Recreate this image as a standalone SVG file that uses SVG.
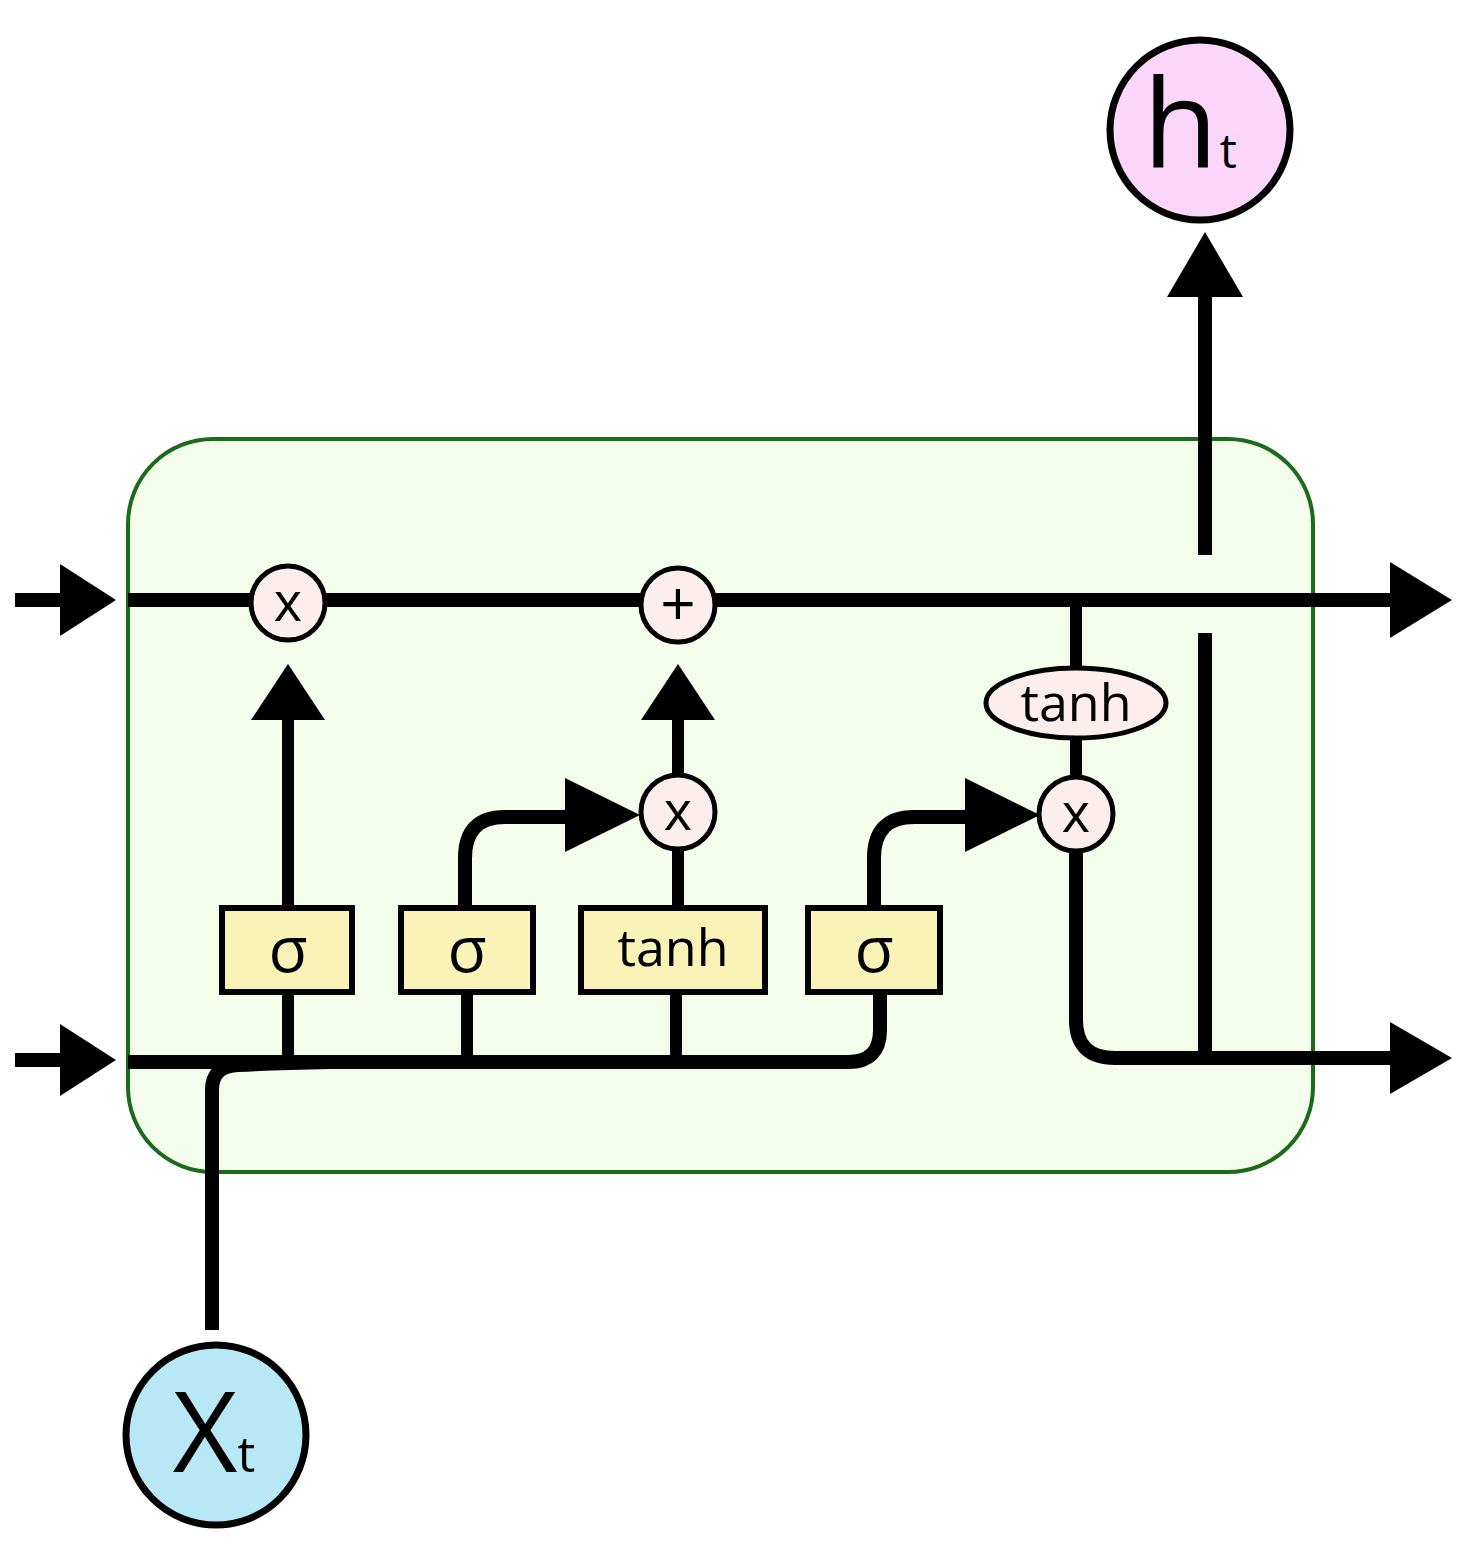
<svg xmlns="http://www.w3.org/2000/svg" width="1472" height="1557" viewBox="0 0 1472 1557">
<style>
.ln{fill:none;stroke:#000;stroke-width:14;stroke-linecap:butt;stroke-linejoin:round}
.ln2{fill:none;stroke:#000;stroke-width:12}
.ah{fill:#000}
.op{fill:#fdeeee;stroke:#000;stroke-width:5}
.gate{fill:#faf3b8;stroke:#000;stroke-width:6}
.t{font-family:"Open Sans","DejaVu Sans",sans-serif;fill:#000;text-anchor:middle}
</style>
<rect width="1472" height="1557" fill="#fff"/>
<g id="cell">
<rect x="128" y="439" width="1185" height="733" rx="85" ry="85" fill="#f4fcec" stroke="#1b6b1b" stroke-width="4"/>
</g>
<g id="connectors">
<line class="ln" x1="15" y1="600" x2="68" y2="600"/>
<polygon class="ah" points="60,564 116,600 60,636"/>
<line class="ln" x1="128" y1="600" x2="1395" y2="600"/>
<polygon class="ah" points="1390,562 1452,600 1390,638"/>
<line class="ln" x1="15" y1="1060" x2="68" y2="1060"/>
<polygon class="ah" points="60,1024 116,1060 60,1096"/>
<path class="ln" d="M880,992 L880,1030 Q880,1062 848,1062 L128,1062"/>
<path class="ln" d="M212,1330 L212,1090 Q212,1066 238,1065 Q280,1063 330,1062"/>
<line class="ln2" x1="288" y1="992" x2="288" y2="1060"/>
<line class="ln2" x1="467" y1="992" x2="467" y2="1060"/>
<line class="ln2" x1="676" y1="992" x2="676" y2="1060"/>
<line class="ln2" x1="288" y1="908" x2="288" y2="712"/>
<polygon class="ah" points="251,720 288,664 325,720"/>
<line class="ln2" x1="678" y1="908" x2="678" y2="849"/>
<line class="ln2" x1="678" y1="775" x2="678" y2="712"/>
<polygon class="ah" points="641,720 678,664 715,720"/>
<path class="ln" d="M465,908 L465,858 Q465,817 505,817 L575,817"/>
<polygon class="ah" points="565,778 640,815 565,852"/>
<path class="ln" d="M874,908 L874,858 Q874,817 914,817 L975,817"/>
<polygon class="ah" points="965,778 1040,815 965,852"/>
<line class="ln2" x1="1076" y1="600" x2="1076" y2="670"/>
<line class="ln2" x1="1076" y1="736" x2="1076" y2="778"/>
<path class="ln" d="M1076,850 L1076,1020 Q1076,1058 1115,1058 L1395,1058"/>
<polygon class="ah" points="1390,1022 1452,1058 1390,1094"/>
<line class="ln" x1="1205" y1="633" x2="1205" y2="1056"/>
<line class="ln" x1="1205" y1="555" x2="1205" y2="290"/>
<polygon class="ah" points="1167,297 1205,232 1243,297"/>
</g>
<g id="forget-mul">
<circle class="op" cx="288" cy="603" r="37"/>
<text class="t" x="288" y="621" font-size="54">x</text>
</g>
<g id="add">
<circle class="op" cx="678" cy="605" r="37"/>
<text class="t" x="678" y="626" font-size="62">+</text>
</g>
<g id="input-mul">
<circle class="op" cx="678" cy="812" r="37"/>
<text class="t" x="678" y="830" font-size="54">x</text>
</g>
<g id="output-mul">
<circle class="op" cx="1076" cy="814" r="37"/>
<text class="t" x="1076" y="832" font-size="54">x</text>
</g>
<g id="tanh-out">
<ellipse class="op" cx="1076" cy="703" rx="90" ry="35"/>
<text class="t" x="1076" y="721" font-size="52">tanh</text>
</g>
<g id="gate-forget">
<rect class="gate" x="222" y="908" width="130" height="84"/>
<text class="t" x="288" y="972" font-size="64">σ</text>
</g>
<g id="gate-input">
<rect class="gate" x="401" y="908" width="132" height="84"/>
<text class="t" x="467" y="972" font-size="64">σ</text>
</g>
<g id="gate-tanh">
<rect class="gate" x="581" y="908" width="184" height="84"/>
<text class="t" x="673" y="966" font-size="52">tanh</text>
</g>
<g id="gate-output">
<rect class="gate" x="808" y="908" width="132" height="84"/>
<text class="t" x="874" y="972" font-size="64">σ</text>
</g>
<g id="h-t">
<circle cx="1200" cy="130" r="90" fill="#fcd6fa" stroke="#000" stroke-width="7"/>
<text x="1190" y="168" font-family="'Open Sans','DejaVu Sans',sans-serif" font-size="122" text-anchor="middle">h<tspan font-size="48" dx="2">t</tspan></text>
</g>
<g id="x-t">
<circle cx="216" cy="1435" r="90" fill="#b8e8f6" stroke="#000" stroke-width="7"/>
<text x="214" y="1472" font-family="'Open Sans','DejaVu Sans',sans-serif" font-size="112" text-anchor="middle">X<tspan font-size="50" dx="0">t</tspan></text>
</g>
</svg>
